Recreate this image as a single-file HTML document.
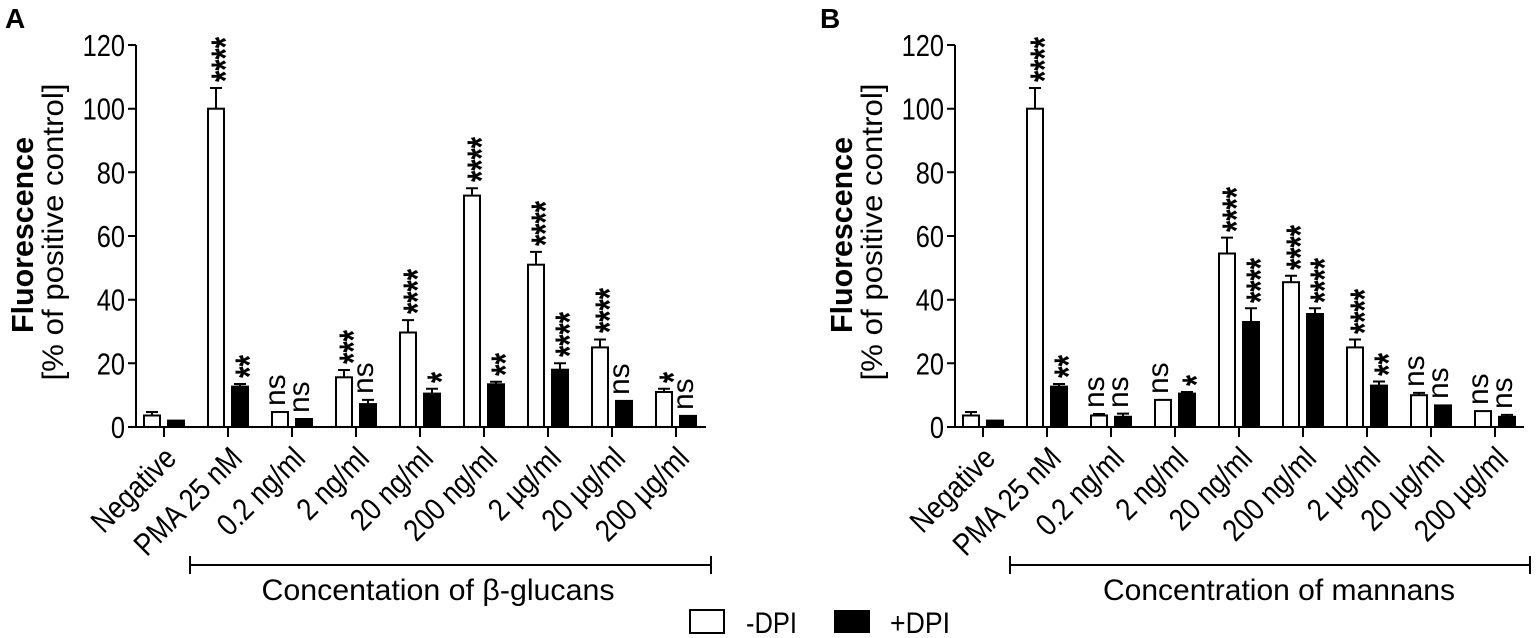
<!DOCTYPE html>
<html><head><meta charset="utf-8"><style>
html,body{margin:0;padding:0;background:#fff;}
svg{display:block;font-family:"Liberation Sans",Arial,sans-serif;}
.bw{fill:#fff;stroke:#000;stroke-width:2}
.bb{fill:#000;stroke:#000;stroke-width:2}
.ax{stroke:#000;stroke-width:2;fill:none}
.yt{font-size:31px;text-anchor:end}
.xl{font-size:31px;text-anchor:end}
.st{font-size:40px;font-weight:bold}
.ns{font-size:30px}
</style></head><body>
<svg width="1536" height="638" viewBox="0 0 1536 638" xmlns="http://www.w3.org/2000/svg">
<text x="5" y="28" font-size="28" font-weight="bold">A</text>
<text x="820" y="28" font-size="28" font-weight="bold">B</text>

<g>
<text transform="translate(33,235) rotate(-90)" font-size="31" font-weight="bold" text-anchor="middle" textLength="196" lengthAdjust="spacingAndGlyphs">Fluorescence</text>
<text transform="translate(63,232) rotate(-90)" font-size="30" text-anchor="middle" textLength="297" lengthAdjust="spacingAndGlyphs">[% of positive control]</text>
<path class="ax" d="M136,45V427H706M128,45H136M128,108.7H136M128,172.3H136M128,236H136M128,299.7H136M128,363.3H136M128,427H136M164,427V437M228,427V437M292,427V437M356,427V437M420,427V437M484,427V437M548,427V437M612,427V437M676,427V437"/>
<text class="yt" transform="translate(125,56) scale(.82,1)">120</text>
<text class="yt" transform="translate(125,119.7) scale(.82,1)">100</text>
<text class="yt" transform="translate(125,183.3) scale(.82,1)">80</text>
<text class="yt" transform="translate(125,247) scale(.82,1)">60</text>
<text class="yt" transform="translate(125,310.7) scale(.82,1)">40</text>
<text class="yt" transform="translate(125,374.3) scale(.82,1)">20</text>
<text class="yt" transform="translate(125,438) scale(.82,1)">0</text>
<text class="xl" transform="translate(178,460) rotate(-45) scale(.86,1)">Negative</text>
<text class="xl" transform="translate(244,460) rotate(-45) scale(.86,1)">PMA 25 nM</text>
<text class="xl" transform="translate(307,460) rotate(-45) scale(.86,1)">0.2 ng/ml</text>
<text class="xl" transform="translate(371,460) rotate(-45) scale(.86,1)">2 ng/ml</text>
<text class="xl" transform="translate(435,460) rotate(-45) scale(.86,1)">20 ng/ml</text>
<text class="xl" transform="translate(499,460) rotate(-45) scale(.86,1)">200 ng/ml</text>
<text class="xl" transform="translate(563,460) rotate(-45) scale(.86,1)">2 µg/ml</text>
<text class="xl" transform="translate(627,460) rotate(-45) scale(.86,1)">20 µg/ml</text>
<text class="xl" transform="translate(691,460) rotate(-45) scale(.86,1)">200 µg/ml</text>
<rect class="bw" x="144" y="415.5" width="16" height="11.5"/><path class="ax" d="M152,415.5V412M146,412H158"/>
<rect class="bb" x="168" y="420.6" width="16" height="6.4"/>
<rect class="bw" x="208" y="108.7" width="16" height="318.3"/><path class="ax" d="M216,108.7V88M210,88H222"/>
<rect class="bb" x="232" y="386.6" width="16" height="40.4"/><path class="ax" d="M240,386.6V384M234,384H246"/>
<rect class="bw" x="272" y="412" width="16" height="15"/>
<rect class="bb" x="296" y="419" width="16" height="8"/>
<rect class="bw" x="336" y="377.3" width="16" height="49.7"/><path class="ax" d="M344,377.3V370M338,370H350"/>
<rect class="bb" x="360" y="404.1" width="16" height="22.9"/><path class="ax" d="M368,404.1V399.9M362,399.9H374"/>
<rect class="bw" x="400" y="332.5" width="16" height="94.5"/><path class="ax" d="M408,332.5V320.1M402,320.1H414"/>
<rect class="bb" x="424" y="393.6" width="16" height="33.4"/><path class="ax" d="M432,393.6V388.8M426,388.8H438"/>
<rect class="bw" x="464" y="195.6" width="16" height="231.4"/><path class="ax" d="M472,195.6V188.3M466,188.3H478"/>
<rect class="bb" x="488" y="384.3" width="16" height="42.7"/><path class="ax" d="M496,384.3V381.8M490,381.8H502"/>
<rect class="bw" x="528" y="264.7" width="16" height="162.3"/><path class="ax" d="M536,264.7V251.9M530,251.9H542"/>
<rect class="bb" x="552" y="369.7" width="16" height="57.3"/><path class="ax" d="M560,369.7V363.3M554,363.3H566"/>
<rect class="bw" x="592" y="347.4" width="16" height="79.6"/><path class="ax" d="M600,347.4V339.5M594,339.5H606"/>
<rect class="bb" x="616" y="400.9" width="16" height="26.1"/>
<rect class="bw" x="656" y="392" width="16" height="35"/><path class="ax" d="M664,392V388.8M658,388.8H670"/>
<rect class="bb" x="680" y="415.9" width="16" height="11.1"/>
<text class="st" transform="translate(239,82) rotate(-90)" textLength="45" lengthAdjust="spacingAndGlyphs">****</text>
<text class="st" transform="translate(263,378) rotate(-90)" textLength="23" lengthAdjust="spacingAndGlyphs">**</text>
<text class="ns" transform="translate(285,406) rotate(-90)">ns</text>
<text class="ns" transform="translate(309,413) rotate(-90)">ns</text>
<text class="st" transform="translate(367,364) rotate(-90)" textLength="34" lengthAdjust="spacingAndGlyphs">***</text>
<text class="ns" transform="translate(373,394) rotate(-90)">ns</text>
<text class="st" transform="translate(431,314) rotate(-90)" textLength="45" lengthAdjust="spacingAndGlyphs">****</text>
<text class="st" transform="translate(455,383) rotate(-90)" textLength="11" lengthAdjust="spacingAndGlyphs">*</text>
<text class="st" transform="translate(495,182) rotate(-90)" textLength="45" lengthAdjust="spacingAndGlyphs">****</text>
<text class="st" transform="translate(519,376) rotate(-90)" textLength="23" lengthAdjust="spacingAndGlyphs">**</text>
<text class="st" transform="translate(559,246) rotate(-90)" textLength="45" lengthAdjust="spacingAndGlyphs">****</text>
<text class="st" transform="translate(583,357) rotate(-90)" textLength="45" lengthAdjust="spacingAndGlyphs">****</text>
<text class="st" transform="translate(623,333) rotate(-90)" textLength="45" lengthAdjust="spacingAndGlyphs">****</text>
<text class="ns" transform="translate(629,395) rotate(-90)">ns</text>
<text class="st" transform="translate(687,383) rotate(-90)" textLength="11" lengthAdjust="spacingAndGlyphs">*</text>
<text class="ns" transform="translate(693,410) rotate(-90)">ns</text>
<path class="ax" d="M190,556V574M190,565H711M711,556V574"/>
<text x="438" y="600" font-size="30" text-anchor="middle" textLength="353" lengthAdjust="spacingAndGlyphs">Concentation of β-glucans</text>
</g>

<g transform="translate(819,0)">
<text transform="translate(33,235) rotate(-90)" font-size="31" font-weight="bold" text-anchor="middle" textLength="196" lengthAdjust="spacingAndGlyphs">Fluorescence</text>
<text transform="translate(63,232) rotate(-90)" font-size="30" text-anchor="middle" textLength="297" lengthAdjust="spacingAndGlyphs">[% of positive control]</text>
<path class="ax" d="M136,45V427H705M128,45H136M128,108.7H136M128,172.3H136M128,236H136M128,299.7H136M128,363.3H136M128,427H136M164,427V437M228,427V437M292,427V437M356,427V437M420,427V437M484,427V437M548,427V437M612,427V437M676,427V437"/>
<text class="yt" transform="translate(125,56) scale(.82,1)">120</text>
<text class="yt" transform="translate(125,119.7) scale(.82,1)">100</text>
<text class="yt" transform="translate(125,183.3) scale(.82,1)">80</text>
<text class="yt" transform="translate(125,247) scale(.82,1)">60</text>
<text class="yt" transform="translate(125,310.7) scale(.82,1)">40</text>
<text class="yt" transform="translate(125,374.3) scale(.82,1)">20</text>
<text class="yt" transform="translate(125,438) scale(.82,1)">0</text>
<text class="xl" transform="translate(178,460) rotate(-45) scale(.86,1)">Negative</text>
<text class="xl" transform="translate(244,460) rotate(-45) scale(.86,1)">PMA 25 nM</text>
<text class="xl" transform="translate(307,460) rotate(-45) scale(.86,1)">0.2 ng/ml</text>
<text class="xl" transform="translate(371,460) rotate(-45) scale(.86,1)">2 ng/ml</text>
<text class="xl" transform="translate(435,460) rotate(-45) scale(.86,1)">20 ng/ml</text>
<text class="xl" transform="translate(499,460) rotate(-45) scale(.86,1)">200 ng/ml</text>
<text class="xl" transform="translate(563,460) rotate(-45) scale(.86,1)">2 µg/ml</text>
<text class="xl" transform="translate(627,460) rotate(-45) scale(.86,1)">20 µg/ml</text>
<text class="xl" transform="translate(691,460) rotate(-45) scale(.86,1)">200 µg/ml</text>
<rect class="bw" x="144" y="415.5" width="16" height="11.5"/><path class="ax" d="M152,415.5V412M146,412H158"/>
<rect class="bb" x="168" y="420.6" width="16" height="6.4"/>
<rect class="bw" x="208" y="108.7" width="16" height="318.3"/><path class="ax" d="M216,108.7V88M210,88H222"/>
<rect class="bb" x="232" y="386.6" width="16" height="40.4"/><path class="ax" d="M240,386.6V384M234,384H246"/>
<rect class="bw" x="272" y="415.5" width="16" height="11.5"/><path class="ax" d="M280,415.5V414M274,414H286"/>
<rect class="bb" x="296" y="416.8" width="16" height="10.2"/><path class="ax" d="M304,416.8V413.6M298,413.6H310"/>
<rect class="bw" x="336" y="399.9" width="16" height="27.1"/>
<rect class="bb" x="360" y="393.6" width="16" height="33.4"/><path class="ax" d="M368,393.6V392M362,392H374"/>
<rect class="bw" x="400" y="253.5" width="16" height="173.5"/><path class="ax" d="M408,253.5V237.6M402,237.6H414"/>
<rect class="bb" x="424" y="322" width="16" height="105"/><path class="ax" d="M432,322V308.3M426,308.3H438"/>
<rect class="bw" x="464" y="282.2" width="16" height="144.8"/><path class="ax" d="M472,282.2V275.8M466,275.8H478"/>
<rect class="bb" x="488" y="314" width="16" height="113"/><path class="ax" d="M496,314V308.3M490,308.3H502"/>
<rect class="bw" x="528" y="347.4" width="16" height="79.6"/><path class="ax" d="M536,347.4V339.5M530,339.5H542"/>
<rect class="bb" x="552" y="385.6" width="16" height="41.4"/><path class="ax" d="M560,385.6V381.5M554,381.5H566"/>
<rect class="bw" x="592" y="395.2" width="16" height="31.8"/><path class="ax" d="M600,395.2V392.9M594,392.9H606"/>
<rect class="bb" x="616" y="405.4" width="16" height="21.6"/>
<rect class="bw" x="656" y="411.1" width="16" height="15.9"/>
<rect class="bb" x="680" y="416.8" width="16" height="10.2"/><path class="ax" d="M688,416.8V414.9M682,414.9H694"/>
<text class="st" transform="translate(239,82) rotate(-90)" textLength="45" lengthAdjust="spacingAndGlyphs">****</text>
<text class="st" transform="translate(263,378) rotate(-90)" textLength="23" lengthAdjust="spacingAndGlyphs">**</text>
<text class="ns" transform="translate(285,408) rotate(-90)">ns</text>
<text class="ns" transform="translate(309,408) rotate(-90)">ns</text>
<text class="ns" transform="translate(349,394) rotate(-90)">ns</text>
<text class="st" transform="translate(391,386) rotate(-90)" textLength="11" lengthAdjust="spacingAndGlyphs">*</text>
<text class="st" transform="translate(431,232) rotate(-90)" textLength="45" lengthAdjust="spacingAndGlyphs">****</text>
<text class="st" transform="translate(455,303) rotate(-90)" textLength="45" lengthAdjust="spacingAndGlyphs">****</text>
<text class="st" transform="translate(495,270) rotate(-90)" textLength="45" lengthAdjust="spacingAndGlyphs">****</text>
<text class="st" transform="translate(519,303) rotate(-90)" textLength="45" lengthAdjust="spacingAndGlyphs">****</text>
<text class="st" transform="translate(559,334) rotate(-90)" textLength="45" lengthAdjust="spacingAndGlyphs">****</text>
<text class="st" transform="translate(583,376) rotate(-90)" textLength="23" lengthAdjust="spacingAndGlyphs">**</text>
<text class="ns" transform="translate(605,387) rotate(-90)">ns</text>
<text class="ns" transform="translate(629,399) rotate(-90)">ns</text>
<text class="ns" transform="translate(669,405) rotate(-90)">ns</text>
<text class="ns" transform="translate(693,409) rotate(-90)">ns</text>
<path class="ax" d="M191,556V574M191,565H711M711,556V574"/>
<text x="460" y="600" font-size="30" text-anchor="middle" textLength="352" lengthAdjust="spacingAndGlyphs">Concentration of mannans</text>
</g>

<rect x="690" y="610" width="34" height="23" fill="#fff" stroke="#000" stroke-width="2"/>
<text x="746" y="633" font-size="30" textLength="51" lengthAdjust="spacingAndGlyphs">-DPI</text>
<rect x="834" y="610" width="36" height="23" fill="#000"/>
<text x="890" y="633" font-size="30" textLength="60" lengthAdjust="spacingAndGlyphs">+DPI</text>
</svg>
</body></html>
